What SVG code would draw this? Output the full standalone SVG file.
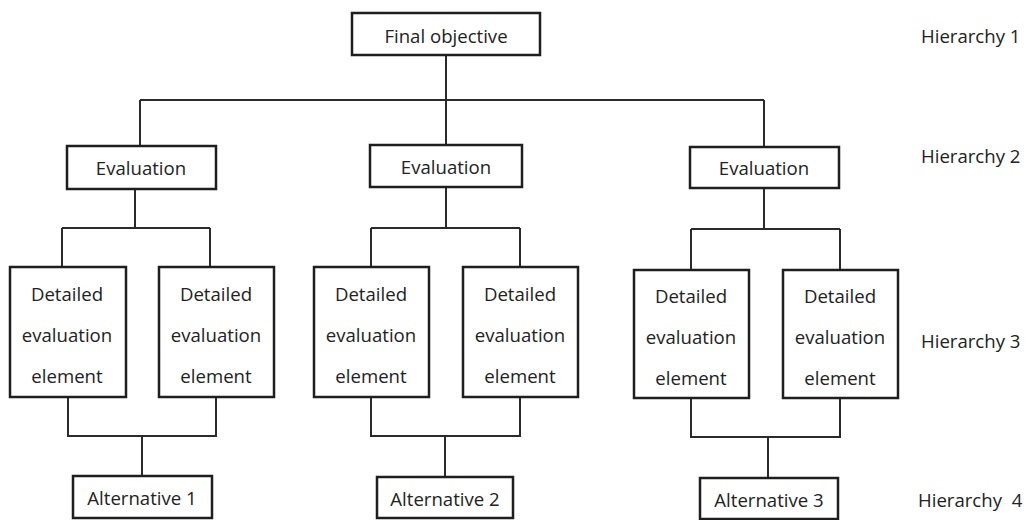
<svg xmlns="http://www.w3.org/2000/svg" width="1028" height="520" viewBox="0 0 1028 520">
<style>
.box{fill:#fff;stroke:#1e1e1e;stroke-width:2.5}
.ln{fill:none;stroke:#2a2a2a;stroke-width:2}
text{font-family:"Open Sans","Noto Sans",sans-serif;font-size:18.6px;fill:#222}
.c{text-anchor:middle}
</style>
<rect width="1028" height="520" fill="#fff"/>
<g id="connectors">
<path class="ln" d="M446 55V145M140 100H764M140 100V146M764 100V147"/>
<path class="ln" d="M135 189V228M62 228H210M62 228V267M210 228V267"/>
<path class="ln" d="M446 187V228M371 228H520M371 228V267M520 228V267"/>
<path class="ln" d="M764 188V229M691 229H840M691 229V270M840 229V270"/>
<path class="ln" d="M68 397V436H216V397M142 436V476"/>
<path class="ln" d="M371 397V436H520V397M445 436V477"/>
<path class="ln" d="M691 398V437H840V398M768 437V478"/>
</g>
<g id="final"><rect class="box" x="352" y="13" width="188" height="42"/><text class="c" x="446" y="43">Final objective</text></g>
<g id="eval1"><rect class="box" x="67" y="146" width="149" height="43"/><text class="c" x="141" y="175">Evaluation</text></g>
<g id="eval2"><rect class="box" x="370" y="145" width="152" height="42"/><text class="c" x="446" y="174">Evaluation</text></g>
<g id="eval3"><rect class="box" x="690" y="147" width="149" height="41"/><text class="c" x="764" y="175">Evaluation</text></g>
<g id="d1"><rect class="box" x="10" y="267" width="116" height="130"/><text class="c" x="67" y="301">Detailed</text><text class="c" x="67" y="342">evaluation</text><text class="c" x="67" y="383">element</text></g>
<g id="d2"><rect class="box" x="159" y="267" width="115" height="130"/><text class="c" x="216" y="301">Detailed</text><text class="c" x="216" y="342">evaluation</text><text class="c" x="216" y="383">element</text></g>
<g id="d3"><rect class="box" x="314" y="267" width="115" height="130"/><text class="c" x="371" y="301">Detailed</text><text class="c" x="371" y="342">evaluation</text><text class="c" x="371" y="383">element</text></g>
<g id="d4"><rect class="box" x="463" y="267" width="115" height="130"/><text class="c" x="520" y="301">Detailed</text><text class="c" x="520" y="342">evaluation</text><text class="c" x="520" y="383">element</text></g>
<g id="d5"><rect class="box" x="634" y="270" width="115" height="128"/><text class="c" x="691" y="303">Detailed</text><text class="c" x="691" y="344">evaluation</text><text class="c" x="691" y="385">element</text></g>
<g id="d6"><rect class="box" x="783" y="270" width="115" height="128"/><text class="c" x="840" y="303">Detailed</text><text class="c" x="840" y="344">evaluation</text><text class="c" x="840" y="385">element</text></g>
<g id="alt1"><rect class="box" x="73" y="476" width="139" height="42"/><text class="c" x="142" y="505">Alternative 1</text></g>
<g id="alt2"><rect class="box" x="377" y="477" width="136" height="41"/><text class="c" x="445" y="506">Alternative 2</text></g>
<g id="alt3"><rect class="box" x="700" y="478" width="138" height="41"/><text class="c" x="769" y="507">Alternative 3</text></g>
<g id="labels">
<text x="921" y="43">Hierarchy 1</text>
<text x="921" y="163">Hierarchy 2</text>
<text x="921" y="348">Hierarchy 3</text>
<text x="918" y="507" xml:space="preserve">Hierarchy  4</text>
</g>
</svg>
